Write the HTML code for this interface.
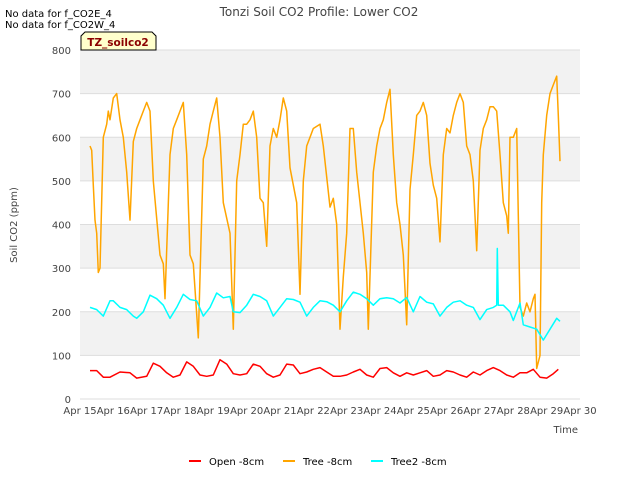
<!DOCTYPE html>
<html><head><meta charset="utf-8"><style>
body{margin:0;background:#fff;}
svg{display:block;font-family:"DejaVu Sans","Liberation Sans",sans-serif;}
</style></head><body>
<svg id="chart" width="640" height="480">
<text x="5" y="17" font-size="10" fill="#000">No data for f_CO2E_4</text>
<text x="5" y="28" font-size="10" fill="#000">No data for f_CO2W_4</text>
<text x="319" y="16" font-size="12" fill="#444" text-anchor="middle">Tonzi Soil CO2 Profile: Lower CO2</text>
<g id="plot"></g>
<text x="17" y="225" font-size="10" fill="#444" text-anchor="middle" transform="rotate(-90 17 225)">Soil CO2 (ppm)</text>
<text x="578" y="433" font-size="10" fill="#444" text-anchor="end">Time</text>
<g>
<path d="M81,50 L81,36 L85,32 L152,32 L156,36 L156,50 Z" fill="#ffffcc" stroke="#000" stroke-width="1"/>
<text x="118" y="46" font-size="10.5" font-weight="bold" fill="#8b0000" text-anchor="middle">TZ_soilco2</text>
</g>
<g>
<g><rect x="189" y="460" width="12" height="2" fill="#ff0000"/><text x="209" y="465" font-size="10" fill="#000">Open -8cm</text></g>
<g><rect x="283" y="460" width="12" height="2" fill="#ffa500"/><text x="303" y="465" font-size="10" fill="#000">Tree -8cm</text></g>
<g><rect x="371" y="460" width="12" height="2" fill="#00ffff"/><text x="391" y="465" font-size="10" fill="#000">Tree2 -8cm</text></g>
</g>
</svg>
<script>
const yTicks=[0,100,200,300,400,500,600,700,800];
const xTickLabels=["Apr 15","Apr 16","Apr 17","Apr 18","Apr 19","Apr 20","Apr 21","Apr 22","Apr 23","Apr 24","Apr 25","Apr 26","Apr 27","Apr 28","Apr 29","Apr 30"];
const treeT=[0.3,0.35,0.4,0.45,0.5,0.55,0.6,0.7,0.8,0.85,0.9,1.0,1.1,1.2,1.3,1.4,1.5,1.6,1.7,1.8,1.9,2.0,2.1,2.2,2.4,2.5,2.55,2.7,2.8,2.9,3.0,3.1,3.2,3.3,3.4,3.55,3.7,3.8,3.9,4.0,4.1,4.2,4.3,4.5,4.6,4.7,4.8,4.9,5.0,5.1,5.2,5.3,5.4,5.5,5.6,5.7,5.8,5.9,6.0,6.1,6.2,6.3,6.5,6.6,6.7,6.8,6.9,7.0,7.2,7.3,7.5,7.6,7.7,7.8,7.9,8.0,8.1,8.2,8.3,8.5,8.6,8.65,8.8,8.9,9.0,9.1,9.2,9.3,9.4,9.5,9.6,9.7,9.8,9.9,10.0,10.1,10.2,10.3,10.4,10.5,10.6,10.7,10.8,10.9,11.0,11.1,11.2,11.3,11.4,11.5,11.6,11.7,11.8,11.9,12.0,12.1,12.2,12.3,12.4,12.5,12.6,12.7,12.8,12.85,12.9,13.0,13.1,13.2,13.3,13.4,13.5,13.6,13.65,13.7,13.8,13.85,13.9,14.0,14.1,14.2,14.3,14.35,14.4];
const treeV=[580,570,490,410,380,290,300,600,630,660,640,690,700,640,600,520,410,590,620,640,660,680,660,500,330,310,230,560,620,640,660,680,560,330,310,140,550,580,630,660,690,600,450,380,160,500,560,630,630,640,660,600,460,450,350,580,620,600,640,690,660,530,450,240,500,580,600,620,630,580,440,460,400,160,280,380,620,620,520,380,290,160,520,580,620,640,680,710,560,450,400,330,170,480,560,650,660,680,650,540,490,460,360,560,620,610,650,680,700,680,580,560,500,340,570,620,640,670,670,660,560,450,420,380,600,600,620,210,190,220,200,230,240,70,100,450,560,650,700,720,740,650,545];
const tree2T=[0.3,0.5,0.7,0.9,1.0,1.2,1.4,1.6,1.7,1.9,2.1,2.3,2.5,2.7,2.9,3.1,3.3,3.5,3.7,3.9,4.1,4.3,4.5,4.6,4.8,5.0,5.2,5.4,5.6,5.8,6.0,6.2,6.4,6.6,6.8,7.0,7.2,7.4,7.6,7.8,8.0,8.2,8.4,8.6,8.8,9.0,9.2,9.4,9.6,9.8,10.0,10.2,10.4,10.6,10.8,11.0,11.2,11.4,11.6,11.8,12.0,12.2,12.4,12.5,12.52,12.55,12.7,12.9,13.0,13.2,13.3,13.5,13.7,13.9,14.1,14.3,14.4];
const tree2V=[210,205,190,225,225,210,205,190,185,200,238,230,215,185,210,240,228,225,190,210,243,232,235,200,198,215,240,235,225,190,210,230,228,222,190,210,225,223,215,200,225,245,240,230,215,230,232,230,220,233,200,235,222,218,190,210,222,225,215,210,182,205,210,215,345,215,215,200,180,220,170,165,160,135,160,185,178];
const openT=[0.3,0.5,0.7,0.9,1.2,1.5,1.7,2.0,2.2,2.4,2.6,2.8,3.0,3.2,3.4,3.6,3.8,4.0,4.2,4.4,4.6,4.8,5.0,5.2,5.4,5.6,5.8,6.0,6.2,6.4,6.6,6.8,7.0,7.2,7.4,7.6,7.8,8.0,8.2,8.4,8.6,8.8,9.0,9.2,9.4,9.6,9.8,10.0,10.2,10.4,10.6,10.8,11.0,11.2,11.4,11.6,11.8,12.0,12.2,12.4,12.6,12.8,13.0,13.2,13.4,13.6,13.8,14.0,14.2,14.35];
const openV=[65,65,50,50,62,60,48,52,82,75,60,50,55,85,75,55,52,55,90,80,58,55,58,80,75,58,50,55,80,78,58,62,68,72,62,52,52,55,62,68,55,50,70,72,60,52,60,55,60,65,52,55,65,62,55,50,62,55,65,72,65,55,50,60,60,68,50,48,58,68];

const NS="http://www.w3.org/2000/svg";
const L=80,R=580,T=50,B=399;
const xS=d=>L+(R-L)*d/15;
const yS=v=>B-(B-T)*v/800;
const g=document.getElementById('plot');
function mk(tag,attrs){const e=document.createElementNS(NS,tag);for(const k in attrs)e.setAttribute(k,attrs[k]);g.appendChild(e);return e;}
mk('rect',{x:L,y:T,width:R-L,height:B-T,fill:'#fff'});
for(let i=0;i<yTicks.length-1;i++){
  if(i%2===1){const r=mk('rect',{x:L,y:yS(yTicks[i+1]),width:R-L,height:yS(yTicks[i])-yS(yTicks[i+1]),fill:'#f2f2f2'});
  
  }
}
yTicks.forEach(v=>{
  const l=mk('line',{x1:L,x2:R,y1:yS(v),y2:yS(v),stroke:'#ddd','stroke-width':1});
  
  
  const t=mk('text',{x:L-9,y:yS(v)+4,'font-size':10,fill:'#444','text-anchor':'end'});
  t.textContent=v;
  
  
});
xTickLabels.forEach((s,i)=>{
  const t=mk('text',{x:xS(i),y:B+15,'font-size':10,fill:'#444','text-anchor':'middle'});
  t.textContent=s;
  
  
});
function line(ts,vs,color,name){
  const p=mk('polyline',{points:ts.map((t,i)=>xS(t).toFixed(1)+','+yS(vs[i]).toFixed(1)).join(' '),fill:'none',stroke:color,'stroke-width':1.5,'stroke-linejoin':'round'});
  
  
}
line(openT,openV,'#ff0000','series-open');
line(treeT,treeV,'#ffa500','series-tree');
line(tree2T,tree2V,'#00ffff','series-tree2');
</script>
</body></html>
